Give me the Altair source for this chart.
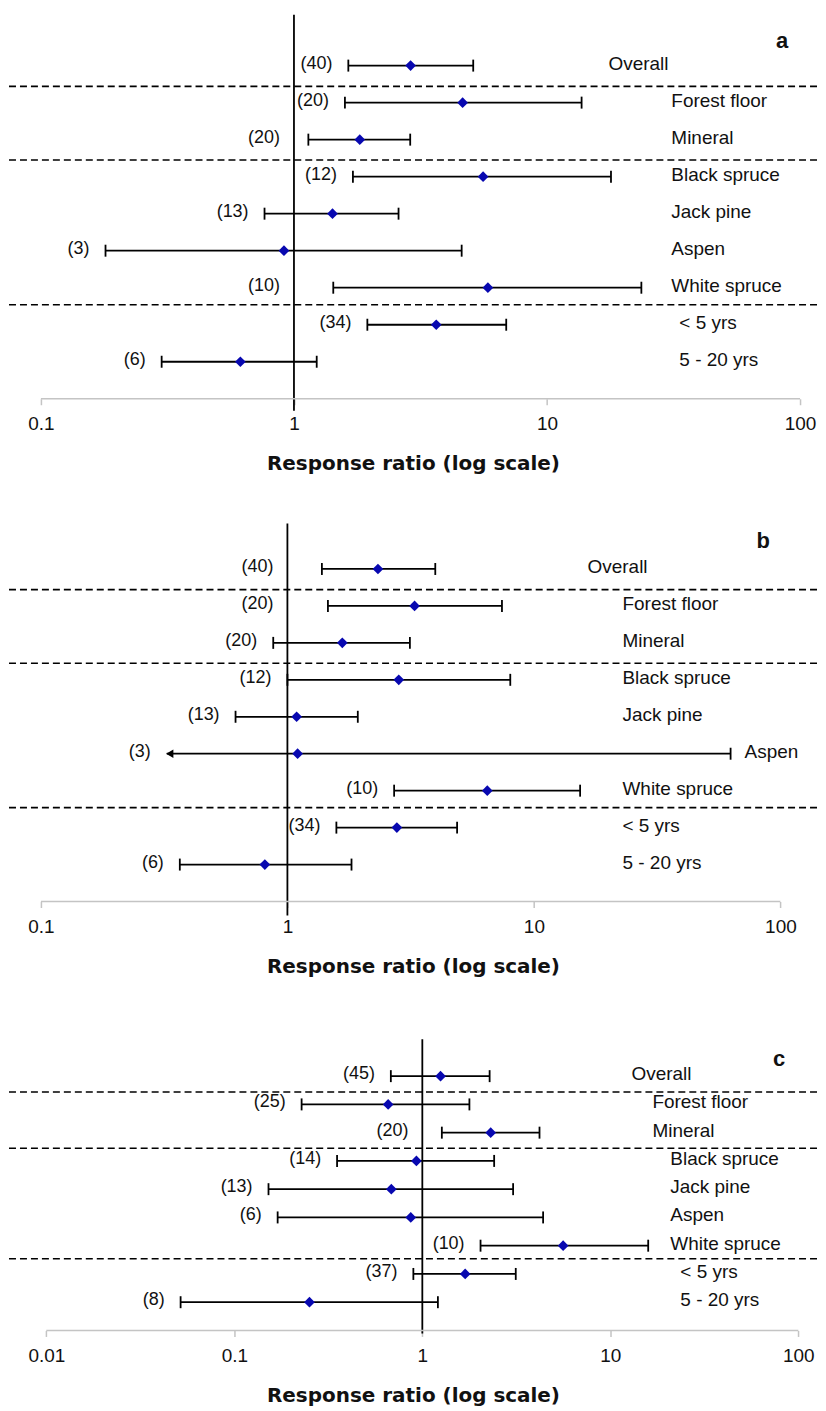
import math
import altair as alt
import pandas as pd

# ---------------- data ----------------
CATS = ["Overall", "Forest floor", "Mineral", "Black spruce", "Jack pine",
        "Aspen", "White spruce", "< 5 yrs", "5 - 20 yrs"]
GROUPS = [0, 1, 1, 2, 2, 2, 2, 3, 3]
SEPARATORS = [0.56, 2.55, 6.46]

A_N = [40, 20, 20, 12, 13, 3, 10, 34, 6]
A_MID = [2.89, 4.64, 1.82, 5.59, 1.42, 0.913, 5.84, 3.65, 0.614]
A_LO = [1.64, 1.59, 1.14, 1.71, 0.765, 0.18, 1.43, 1.95, 0.30]
A_HI = [5.11, 13.7, 2.88, 17.9, 2.59, 4.60, 23.6, 6.90, 1.23]
A_OPEN = [0, 0, 0, 0, 0, 0, 0, 0, 0]

B_N = [40, 20, 20, 12, 13, 3, 10, 34, 6]
B_MID = [2.33, 3.28, 1.67, 2.83, 1.09, 1.10, 6.47, 2.78, 0.81]
B_LO = [1.38, 1.46, 0.876, 1.00, 0.616, 0.324, 2.71, 1.58, 0.366]
B_HI = [3.98, 7.42, 3.14, 8.02, 1.93, 62.8, 15.4, 4.88, 1.82]
B_OPEN = [0, 0, 0, 0, 0, 1, 0, 0, 0]

C_N = [45, 25, 20, 14, 13, 6, 10, 37, 8]
C_MID = [1.25, 0.658, 2.31, 0.93, 0.684, 0.868, 5.61, 1.69, 0.251]
C_LO = [0.68, 0.228, 1.27, 0.352, 0.152, 0.170, 2.04, 0.896, 0.0518]
C_HI = [2.28, 1.78, 4.20, 2.41, 3.04, 4.39, 15.9, 3.14, 1.21]
C_OPEN = [0, 0, 0, 0, 0, 0, 0, 0, 0]

TICKS_AB = [0.1, 1, 10, 100]
TICKS_C = [0.01, 0.1, 1, 10, 100]

# ---------------- style / layout ----------------
W = 810
FONT = "Liberation Sans"
TITLE_FONT = "DejaVu Sans"
BLUE = "#0808b0"
GREY = "#c4c4c4"
INK = "#111111"
LW = 1.8
COUNT_FS = 18

PANELS = [
    dict(letter="a", n=A_N, mid=A_MID, lo=A_LO, hi=A_HI, open=A_OPEN,
         ticks=TICKS_AB, tick_px=(32.0, 793.0), H=385, ytop=-1.375,
         cols=[601, 664, 664, 672], letter_xy=(775, 26), ext=12),
    dict(letter="b", n=B_N, mid=B_MID, lo=B_LO, hi=B_HI, open=B_OPEN,
         ticks=TICKS_AB, tick_px=(32.0, 773.3), H=379, ytop=-1.232,
         cols=[580, 615, 615, 615], letter_xy=(756, 18), ext=14),
    dict(letter="c", n=C_N, mid=C_MID, lo=C_LO, hi=C_HI, open=C_OPEN,
         ticks=TICKS_C, tick_px=(37.4, 791.3), H=292, ytop=-1.308,
         cols=[624, 645, 663, 673], letter_xy=(772, 20), ext=3),
]


def make_panel(p):
    t0, t1 = p["ticks"][0], p["ticks"][-1]
    p0, p1 = p["tick_px"]
    decade = (p1 - p0) / math.log10(t1 / t0)
    dmin = t0 * 10 ** (-p0 / decade)
    dmax = t1 * 10 ** ((W - p1) / decade)
    H = p["H"]

    def px(v):
        return W * (math.log10(v) - math.log10(dmin)) / (math.log10(dmax) - math.log10(dmin))

    # category labels: column per group, pushed right of a long interval
    lx = [max(p["cols"][g], px(h) + 14) for g, h in zip(GROUPS, p["hi"])]

    # count labels: left of the lower end, moved left of the 1-line if they would touch it
    one = px(1.0)
    labels = ["(%d)" % v for v in p["n"]]
    nx = []
    for lab, lo in zip(labels, p["lo"]):
        width = COUNT_FS * (0.333 * 2 + 0.556 * (len(lab) - 2))
        right = px(lo) - 16
        if right - width < one and right > one - 8:
            right = one - 14
        nx.append(right)

    df = pd.DataFrame({
        "row": list(range(len(CATS))),
        "cat": CATS,
        "nlabel": labels,
        "mid": p["mid"], "lo": p["lo"], "hi": p["hi"],
        "open": p["open"], "lx": lx, "nx": nx,
    })

    xs = alt.Scale(type="log", domain=[dmin, dmax], nice=False)
    ys = alt.Scale(domain=[9.0, p["ytop"]], nice=False, zero=False)
    axis = alt.Axis(values=p["ticks"], format="~g", domain=False, grid=False,
                    tickColor=GREY, tickSize=6, tickWidth=1.5,
                    labelFont=FONT, labelFontSize=19, labelColor=INK,
                    labelPadding=10, labelFlush=False,
                    title="Response ratio (log scale)", titleFont=TITLE_FONT,
                    titleFontSize=20, titleFontWeight="bold", titleColor=INK,
                    titlePadding=20)

    def X(field):
        return alt.X(field, type="quantitative", scale=xs, axis=axis)

    Y = alt.Y("row:Q", scale=ys, axis=None)

    sep = alt.Chart(pd.DataFrame({"row": SEPARATORS})).mark_rule(
        strokeDash=[7, 4], strokeWidth=1.6, color="black"
    ).encode(y=Y, x=alt.value(0), x2=alt.value(W))

    vline = alt.Chart(pd.DataFrame({"v": [1.0]})).mark_rule(
        strokeWidth=LW, color="black"
    ).encode(x=X("v"), y=alt.value(0), y2=alt.value(H + p["ext"]))

    axline = alt.Chart(pd.DataFrame({"a": [t0], "b": [t1]})).mark_rule(
        strokeWidth=1.5, color=GREY
    ).encode(x=X("a"), x2="b:Q", y=alt.value(H))

    base = alt.Chart(df)
    ci = base.mark_rule(strokeWidth=LW, color="black").encode(x=X("lo"), x2="hi:Q", y=Y)
    cap_hi = base.mark_tick(orient="vertical", size=12, thickness=LW, color="black",
                            opacity=1).encode(x=X("hi"), y=Y)
    cap_lo = base.transform_filter("datum.open == 0").mark_tick(
        orient="vertical", size=12, thickness=LW, color="black", opacity=1
    ).encode(x=X("lo"), y=Y)
    arrow = base.transform_filter("datum.open == 1").mark_point(
        shape="triangle-left", filled=True, size=70, color="black", opacity=1, xOffset=3
    ).encode(x=X("lo"), y=Y)
    dots = base.mark_point(shape="diamond", filled=True, size=115, color=BLUE,
                           opacity=1).encode(x=X("mid"), y=Y)
    counts = base.mark_text(align="right", baseline="middle", dy=-2,
                            font=FONT, fontSize=COUNT_FS, color=INK).encode(
        x=alt.X("nx:Q", scale=None), y=Y, text="nlabel:N")
    cats = base.mark_text(align="left", baseline="middle", dy=-2,
                          font=FONT, fontSize=19, color=INK).encode(
        x=alt.X("lx:Q", scale=None), y=Y, text="cat:N")
    letter = alt.Chart(pd.DataFrame({"t": [p["letter"]]})).mark_text(
        font=FONT, fontSize=22, fontWeight="bold", color=INK,
        align="center", baseline="middle"
    ).encode(x=alt.value(p["letter_xy"][0]), y=alt.value(p["letter_xy"][1]), text="t:N")

    return alt.layer(sep, vline, axline, ci, cap_hi, cap_lo, arrow, dots,
                     counts, cats, letter).properties(width=W, height=H)


pa, pb, pc = [make_panel(p) for p in PANELS]
top = alt.vconcat(pa, pb, spacing=49)
chart = alt.vconcat(top, pc, spacing=62).properties(
    padding={"left": 0, "top": 4, "right": 0, "bottom": 0},
    background="white",
).configure_view(strokeWidth=0)

chart.save("out.html", embed_options={"renderer": "svg", "actions": False})
